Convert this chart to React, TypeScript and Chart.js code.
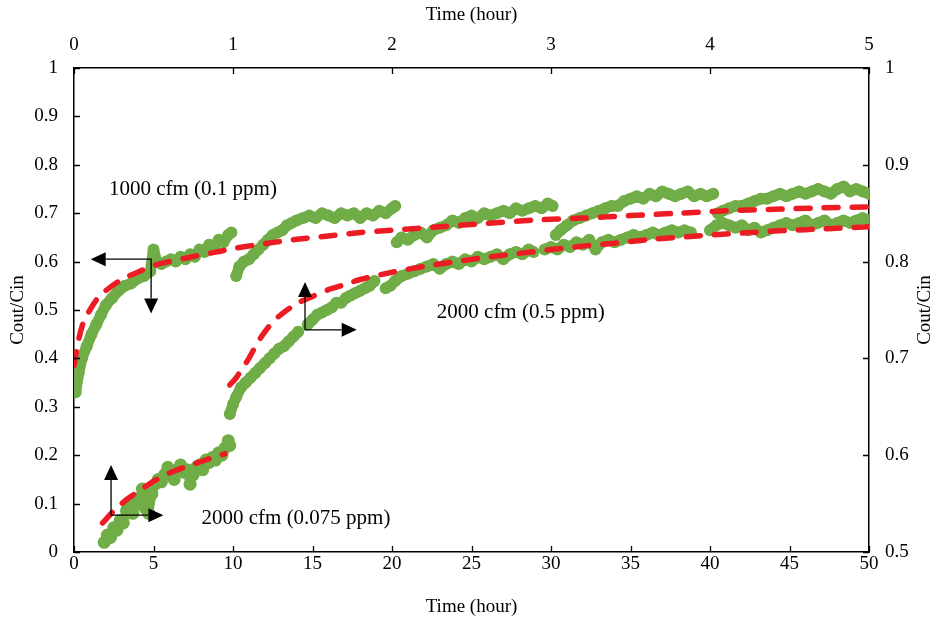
import React, { useEffect, useRef } from 'react';
import { Chart, registerables } from 'chart.js';

Chart.register(...registerables);

const SERIF = "'Liberation Serif', 'Times New Roman', serif";
const GREEN = 'rgb(112,173,71)';
const RED = 'rgb(237,28,36)';

// ---- measured data: 1000 cfm (0.1 ppm) ----
const a1Time = [0.1, 0.3, 0.5, 0.8, 1.1, 1.4, 1.7, 2.0, 2.4, 2.8, 3.2, 3.6, 4.0, 4.4, 4.8, 5.0, 5.2, 5.5, 5.8, 6.1, 6.4, 6.7, 7.0, 7.3, 7.6, 7.9, 8.2, 8.5, 8.8, 9.1, 9.4, 9.7, 9.9];
const a1Value = [0.33, 0.37, 0.40, 0.425, 0.45, 0.47, 0.49, 0.51, 0.525, 0.54, 0.55, 0.555, 0.565, 0.57, 0.58, 0.625, 0.60, 0.595, 0.60, 0.605, 0.60, 0.61, 0.605, 0.615, 0.61, 0.625, 0.62, 0.635, 0.63, 0.645, 0.64, 0.655, 0.66];
const a2Time = [10.2, 10.4, 10.7, 11.0, 11.3, 11.6, 11.9, 12.2, 12.5, 12.8, 13.1, 13.4, 13.7, 14.0, 14.4, 14.8, 15.2, 15.6, 16.0, 16.4, 16.8, 17.2, 17.6, 18.0, 18.4, 18.8, 19.2, 19.6, 20.0, 20.2];
const a2Value = [0.57, 0.59, 0.60, 0.605, 0.615, 0.625, 0.635, 0.645, 0.655, 0.66, 0.665, 0.675, 0.68, 0.685, 0.69, 0.695, 0.69, 0.70, 0.695, 0.69, 0.70, 0.695, 0.70, 0.69, 0.70, 0.695, 0.705, 0.70, 0.71, 0.715];
const a3Time = [20.3, 20.6, 21.0, 21.4, 21.8, 22.2, 22.6, 23.0, 23.4, 23.8, 24.2, 24.6, 25.0, 25.4, 25.8, 26.2, 26.6, 27.0, 27.4, 27.8, 28.2, 28.6, 29.0, 29.4, 29.8, 30.1];
const a3Value = [0.64, 0.65, 0.645, 0.655, 0.66, 0.65, 0.665, 0.67, 0.675, 0.685, 0.68, 0.69, 0.695, 0.69, 0.70, 0.695, 0.70, 0.705, 0.70, 0.71, 0.705, 0.71, 0.715, 0.71, 0.72, 0.715];
const a4Time = [30.3, 30.6, 31.0, 31.4, 31.8, 32.2, 32.6, 33.0, 33.4, 33.8, 34.2, 34.6, 35.0, 35.4, 35.8, 36.2, 36.6, 37.0, 37.4, 37.8, 38.2, 38.6, 39.0, 39.4, 39.8, 40.2];
const a4Value = [0.655, 0.665, 0.675, 0.685, 0.69, 0.695, 0.70, 0.705, 0.71, 0.715, 0.715, 0.725, 0.73, 0.735, 0.73, 0.74, 0.735, 0.745, 0.74, 0.735, 0.74, 0.745, 0.735, 0.74, 0.735, 0.74];
const a5Time = [40.5, 40.8, 41.2, 41.6, 42.0, 42.4, 42.8, 43.2, 43.6, 44.0, 44.4, 44.8, 45.2, 45.6, 46.0, 46.4, 46.8, 47.2, 47.6, 48.0, 48.4, 48.8, 49.2, 49.6, 50.0];
const a5Value = [0.70, 0.705, 0.71, 0.715, 0.715, 0.72, 0.725, 0.73, 0.73, 0.735, 0.74, 0.735, 0.74, 0.745, 0.74, 0.745, 0.75, 0.745, 0.74, 0.75, 0.755, 0.745, 0.75, 0.745, 0.74];

// ---- measured data: 2000 cfm (0.075 ppm) ----
const bTime = [1.9, 2.1, 2.3, 2.5, 2.7, 2.9, 3.1, 3.3, 3.5, 3.7, 3.9, 4.1, 4.3, 4.5, 4.7, 4.9, 5.1, 5.3, 5.5, 5.7, 5.9, 6.1, 6.3, 6.5, 6.7, 6.9, 7.1, 7.3, 7.5, 7.7, 7.9, 8.1, 8.3, 8.5, 8.7, 8.9, 9.1, 9.3, 9.5, 9.7, 9.8];
const bValue = [0.02, 0.035, 0.03, 0.05, 0.045, 0.065, 0.06, 0.085, 0.095, 0.08, 0.11, 0.10, 0.13, 0.09, 0.08, 0.12, 0.14, 0.15, 0.145, 0.16, 0.175, 0.165, 0.15, 0.17, 0.18, 0.165, 0.17, 0.14, 0.16, 0.175, 0.18, 0.17, 0.19, 0.185, 0.195, 0.19, 0.205, 0.20, 0.215, 0.23, 0.22];

// ---- measured data: 2000 cfm (0.5 ppm) ----
const c1Time = [9.8, 10.0, 10.2, 10.5, 10.8, 11.1, 11.4, 11.7, 12.0, 12.3, 12.6, 12.9, 13.2, 13.5, 13.8, 14.1];
const c1Value = [0.285, 0.305, 0.32, 0.34, 0.35, 0.36, 0.37, 0.38, 0.39, 0.40, 0.41, 0.42, 0.425, 0.435, 0.445, 0.455];
const c2Time = [14.7, 15.0, 15.3, 15.6, 15.9, 16.2, 16.5, 16.8, 17.1, 17.4, 17.7, 18.0, 18.3, 18.6, 18.9];
const c2Value = [0.47, 0.48, 0.49, 0.495, 0.50, 0.505, 0.515, 0.515, 0.525, 0.53, 0.535, 0.54, 0.545, 0.55, 0.56];
const c3Time = [19.6, 19.9, 20.2, 20.6, 21.0, 21.4, 21.8, 22.2, 22.6, 23.0, 23.4, 23.8, 24.2, 24.6, 25.0, 25.4, 25.8, 26.2, 26.6, 27.0, 27.4, 27.8, 28.2, 28.6, 28.9];
const c3Value = [0.545, 0.55, 0.56, 0.57, 0.575, 0.58, 0.585, 0.59, 0.595, 0.585, 0.595, 0.60, 0.595, 0.605, 0.60, 0.61, 0.605, 0.61, 0.615, 0.605, 0.615, 0.62, 0.615, 0.625, 0.62];
const c4Time = [29.6, 30.0, 30.4, 30.8, 31.2, 31.6, 32.0, 32.4, 32.8, 33.2, 33.6, 34.0, 34.4, 34.8, 35.2, 35.6, 36.0, 36.4, 36.8, 37.2, 37.6, 38.0, 38.4, 38.8];
const c4Value = [0.625, 0.63, 0.625, 0.635, 0.63, 0.64, 0.635, 0.645, 0.625, 0.64, 0.645, 0.64, 0.645, 0.65, 0.655, 0.65, 0.655, 0.66, 0.655, 0.66, 0.665, 0.66, 0.665, 0.66];
const c5Time = [40.0, 40.4, 40.8, 41.2, 41.6, 42.0, 42.4, 42.8, 43.2, 43.6, 44.0, 44.4, 44.8, 45.2, 45.6, 46.0, 46.4, 46.8, 47.2, 47.6, 48.0, 48.4, 48.8, 49.2, 49.6, 50.0];
const c5Value = [0.665, 0.675, 0.68, 0.675, 0.67, 0.675, 0.665, 0.67, 0.66, 0.665, 0.67, 0.675, 0.68, 0.675, 0.68, 0.685, 0.675, 0.68, 0.685, 0.675, 0.68, 0.685, 0.68, 0.685, 0.69, 0.685];

// ---- model fits (red dashed) ----
const fitATime = [0, 0.3, 0.6, 1.0, 1.5, 2, 3, 4, 5, 6, 7, 8, 9, 10, 12, 14, 16, 18, 20, 23, 26, 29, 32, 35, 38, 41, 44, 47, 50];
const fitAValue = [0.385, 0.44, 0.475, 0.50, 0.525, 0.54, 0.563, 0.578, 0.592, 0.60, 0.607, 0.614, 0.62, 0.627, 0.637, 0.646, 0.653, 0.66, 0.665, 0.672, 0.679, 0.686, 0.69, 0.695, 0.70, 0.705, 0.708, 0.711, 0.713];
const fitBTime = [1.8, 2.5, 3, 3.5, 4, 5, 6, 7, 8, 9, 9.5];
const fitBValue = [0.06, 0.085, 0.10, 0.113, 0.124, 0.146, 0.163, 0.176, 0.187, 0.198, 0.203];
const fitCTime = [9.8, 10.2, 10.6, 11, 11.5, 12, 12.5, 13, 14, 15, 16, 17, 18, 20, 22, 24, 26, 28, 30, 32, 34, 36, 38, 40, 42, 44, 46, 48, 50];
const fitCValue = [0.345, 0.36, 0.38, 0.40, 0.43, 0.455, 0.475, 0.49, 0.513, 0.528, 0.542, 0.552, 0.563, 0.578, 0.59, 0.60, 0.609, 0.617, 0.625, 0.632, 0.638, 0.645, 0.65, 0.655, 0.659, 0.663, 0.666, 0.669, 0.672];

// ---- axes ----
const bottomRange = [0, 50];
const bottomStep = 5;
const topRange = [0, 5];
const topStep = 1;
const leftRange = [0, 1];
const rightRange = [0.5, 1];
const yStep = 0.1;
const axisTitle = 'Time (hour)';
const yTitle = 'Cout/Cin';

// ---- annotations (data coordinates) ----
const labelTexts = ['1000 cfm (0.1 ppm)', '2000 cfm (0.5 ppm)', '2000 cfm (0.075 ppm)'];
const labelTime = [7.48, 28.1, 13.96];
const labelValue = [0.748, 0.494, 0.07];
const arrowCornerTime = [4.85, 14.53, 2.33];
const arrowCornerValue = [0.605, 0.459, 0.076];
const arrowHTipTime = [1.05, 17.78, 5.62];
const arrowVTipValue = [0.493, 0.558, 0.18];

const pts = (t: number[], v: number[]) => t.map((x, i) => ({ x, y: v[i] }));

const fmt = (v: number) => String(Number(Number(v).toFixed(2)));

const insideTicksPlugin = {
  id: 'insideTicks',
  afterDraw(chart: any) {
    const { ctx, chartArea } = chart;
    const { left, right, top, bottom } = chartArea;
    const L = 6;
    ctx.save();
    ctx.strokeStyle = '#000';
    ctx.lineWidth = 1.3;
    ctx.beginPath();
    const sx = chart.scales.x, sx2 = chart.scales.x2, sy = chart.scales.y, sy2 = chart.scales.y2;
    sx.ticks.forEach((t: any) => { const p = Math.round(sx.getPixelForValue(t.value)) + 0.5; ctx.moveTo(p, bottom); ctx.lineTo(p, bottom - L); });
    sx2.ticks.forEach((t: any) => { const p = Math.round(sx2.getPixelForValue(t.value)) + 0.5; ctx.moveTo(p, top); ctx.lineTo(p, top + L); });
    sy.ticks.forEach((t: any) => { const p = Math.round(sy.getPixelForValue(t.value)) + 0.5; ctx.moveTo(left, p); ctx.lineTo(left + L, p); });
    sy2.ticks.forEach((t: any) => { const p = Math.round(sy2.getPixelForValue(t.value)) + 0.5; ctx.moveTo(right, p); ctx.lineTo(right - L, p); });
    ctx.stroke();

    // right axis title (rotated like the left one)
    ctx.fillStyle = '#000';
    ctx.font = `19px ${SERIF}`;
    ctx.textAlign = 'center';
    ctx.textBaseline = 'middle';
    ctx.translate(925, (top + bottom) / 2);
    ctx.rotate(-Math.PI / 2);
    ctx.fillText(yTitle, 0, 0);
    ctx.restore();
  },
};

const annotationPlugin = {
  id: 'annotations',
  afterDatasetsDraw(chart: any) {
    const { ctx } = chart;
    const sx = chart.scales.x, sy = chart.scales.y;
    ctx.save();
    ctx.strokeStyle = '#000';
    ctx.fillStyle = '#000';
    ctx.lineWidth = 1.3;
    const head = 15, half = 7;
    arrowCornerTime.forEach((ct, i) => {
      const cx = sx.getPixelForValue(ct);
      const cy = sy.getPixelForValue(arrowCornerValue[i]);
      const hx = sx.getPixelForValue(arrowHTipTime[i]);
      const vy = sy.getPixelForValue(arrowVTipValue[i]);
      const dirH = Math.sign(hx - cx);
      const dirV = Math.sign(vy - cy);
      ctx.beginPath();
      ctx.moveTo(hx - dirH * head, cy);
      ctx.lineTo(cx, cy);
      ctx.lineTo(cx, vy - dirV * head);
      ctx.stroke();
      ctx.beginPath();
      ctx.moveTo(hx, cy);
      ctx.lineTo(hx - dirH * head, cy - half);
      ctx.lineTo(hx - dirH * head, cy + half);
      ctx.closePath();
      ctx.fill();
      ctx.beginPath();
      ctx.moveTo(cx, vy);
      ctx.lineTo(cx - half, vy - dirV * head);
      ctx.lineTo(cx + half, vy - dirV * head);
      ctx.closePath();
      ctx.fill();
    });
    ctx.font = `21px ${SERIF}`;
    ctx.textAlign = 'center';
    ctx.textBaseline = 'middle';
    labelTexts.forEach((txt, i) => {
      ctx.fillText(txt, sx.getPixelForValue(labelTime[i]), sy.getPixelForValue(labelValue[i]));
    });
    ctx.restore();
  },
};

const greenSet = (t: number[], v: number[], width = 11, radius = 6) => ({
  data: pts(t, v),
  showLine: true,
  borderColor: GREEN,
  backgroundColor: GREEN,
  borderWidth: width,
  pointRadius: radius,
  pointBorderWidth: 0,
  pointBackgroundColor: GREEN,
  borderCapStyle: 'round',
  borderJoinStyle: 'round',
  order: 2,
});

const redSet = (t: number[], v: number[]) => ({
  data: pts(t, v),
  showLine: true,
  borderColor: RED,
  borderWidth: 5.5,
  borderDash: [14, 14],
  borderCapStyle: 'round',
  pointRadius: 0,
  tension: 0.3,
  order: 1,
});

export default function App() {
  const canvasRef = useRef<HTMLCanvasElement | null>(null);

  useEffect(() => {
    if (!canvasRef.current) return;
    const tickFont = { family: SERIF, size: 19 };
    const titleFont = { family: SERIF, size: 19 };
    const border = { display: true, color: '#000', width: 1.5 };
    const grid = { display: true, drawOnChartArea: false, drawTicks: false };
    const chart = new Chart(canvasRef.current, {
      type: 'scatter',
      data: {
        datasets: [
          greenSet(a1Time, a1Value),
          greenSet(a2Time, a2Value),
          greenSet(a3Time, a3Value),
          greenSet(a4Time, a4Value),
          greenSet(a5Time, a5Value),
          greenSet(bTime, bValue, 9, 6.5),
          greenSet(c1Time, c1Value),
          greenSet(c2Time, c2Value),
          greenSet(c3Time, c3Value),
          greenSet(c4Time, c4Value),
          greenSet(c5Time, c5Value),
          redSet(fitATime, fitAValue),
          redSet(fitBTime, fitBValue),
          redSet(fitCTime, fitCValue),
        ] as any,
      },
      options: {
        animation: false,
        responsive: false,
        devicePixelRatio: 1,
        layout: { padding: 0 },
        plugins: { legend: { display: false }, tooltip: { enabled: false } },
        scales: {
          x: {
            type: 'linear', position: 'bottom', min: bottomRange[0], max: bottomRange[1],
            ticks: { stepSize: bottomStep, font: tickFont, color: '#000', padding: 1, callback: (v: any) => fmt(v) },
            grid, border,
            title: { display: true, text: axisTitle, font: titleFont, color: '#000', padding: { top: 0, bottom: 9 } },
            afterFit: (s: any) => { s.height = 75; },
          },
          x2: {
            type: 'linear', position: 'top', min: topRange[0], max: topRange[1],
            ticks: { stepSize: topStep, font: tickFont, color: '#000', padding: 12, callback: (v: any) => fmt(v) },
            grid, border,
            title: { display: true, text: axisTitle, font: titleFont, color: '#000', padding: { top: 4, bottom: 0 } },
            afterFit: (s: any) => { s.height = 68; },
          },
          y: {
            type: 'linear', position: 'left', min: leftRange[0], max: leftRange[1],
            ticks: { stepSize: yStep, font: tickFont, color: '#000', padding: 16, callback: (v: any) => fmt(v) },
            grid, border,
            title: { display: true, text: yTitle, font: titleFont, color: '#000', padding: { top: 7, bottom: 0 } },
            afterFit: (s: any) => { s.width = 74; },
          },
          y2: {
            type: 'linear', position: 'right', min: rightRange[0], max: rightRange[1],
            ticks: { stepSize: yStep, font: tickFont, color: '#000', padding: 16, callback: (v: any) => fmt(v) },
            grid, border,
            title: { display: false },
            afterFit: (s: any) => { s.width = 66; },
          },
        },
      } as any,
      plugins: [insideTicksPlugin, annotationPlugin],
    });
    return () => chart.destroy();
  }, []);

  return (
    <div style={{ position: 'absolute', left: 0, top: 0, width: 935, height: 627, background: '#fff' }}>
      <canvas ref={canvasRef} width={935} height={627} />
    </div>
  );
}
